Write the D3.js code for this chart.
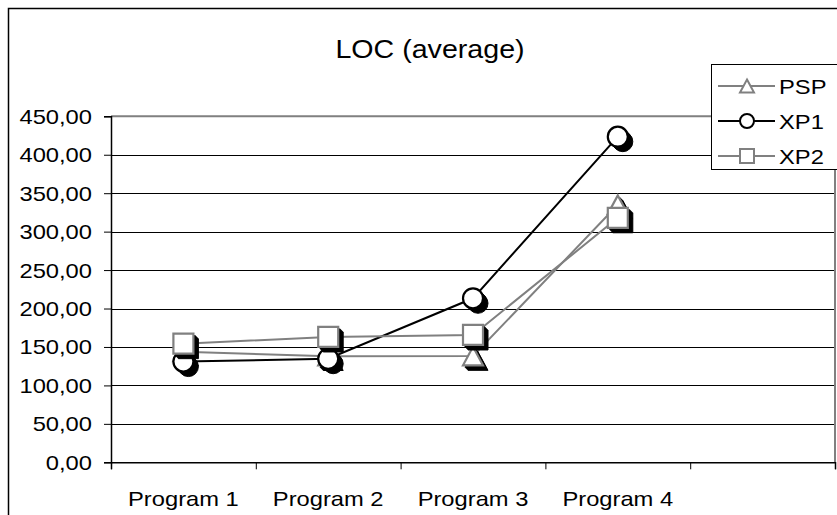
<!DOCTYPE html>
<html>
<head>
<meta charset="utf-8">
<script src="https://cdn.jsdelivr.net/npm/d3@7"></script>
<style>
  html, body { margin: 0; padding: 0; background: #fff; }
  svg { display: block; }
  text { font-family: "Liberation Sans", Arial, sans-serif; fill: #000; }
</style>
</head>
<body>
<svg id="chart" width="837" height="515"></svg>
<script>
// ---- data ----
const categories = ["Program 1", "Program 2", "Program 3", "Program 4"];
const seriesNames = ["PSP", "XP1", "XP2"];
const pspValues = [143.8, 138.0, 138.2, 335.0];
const xp1Values = [131.0, 134.7, 213.3, 423.5];
const xp2Values = [154.3, 163.0, 165.6, 318.0];
const yTicks = [0, 50, 100, 150, 200, 250, 300, 350, 400, 450];
const chartTitle = "LOC (average)";

const series = [
  { name: seriesNames[0], values: pspValues, color: "#808080", shape: "triangle" },
  { name: seriesNames[1], values: xp1Values, color: "#000000", shape: "circle" },
  { name: seriesNames[2], values: xp2Values, color: "#808080", shape: "square" }
];

const svg = d3.select("#chart");
const SX = 1.13; // horizontal text stretch seen in reference

// outer chart border
svg.append("rect").attr("x", 8.5).attr("y", 8.5).attr("width", 840).attr("height", 520)
  .attr("fill", "#fff").attr("stroke", "#000").attr("stroke-width", 1.5);

const plot = { left: 111, right: 835, top: 116.3, bottom: 462.3 };
const slots = categories.length + 1; // one empty category slot at the end
const xLin = d3.scaleLinear().domain([0, slots]).range([plot.left, plot.right]);
const xPos = i => xLin(i + 0.5);
const y = d3.scaleLinear().domain([0, 450]).range([plot.bottom, plot.top]);

const locale = d3.formatLocale({ decimal: ",", thousands: ".", grouping: [3], currency: ["", ""] });
const fmt = locale.format(".2f");

function stretchedText(g, x, yy, str, size, anchor, sx) {
  return g.append("text")
    .attr("transform", `translate(${x},${yy}) scale(${sx || SX},1)`)
    .attr("font-size", size)
    .attr("text-anchor", anchor)
    .text(str);
}

// title
stretchedText(svg, 430, 58, chartTitle, 26, "middle", 1.1);

// gridlines
svg.append("g").selectAll("line").data(yTicks.filter(t => t > 0 && t < 450)).join("line")
  .attr("x1", plot.left).attr("x2", plot.right)
  .attr("y1", d => Math.round(y(d)) + 0.5).attr("y2", d => Math.round(y(d)) + 0.5)
  .attr("stroke", "#000").attr("stroke-width", 1);

// plot border (top & right gray)
svg.append("path")
  .attr("d", `M${plot.left},${plot.top}H${plot.right}V${plot.bottom}`)
  .attr("fill", "none").attr("stroke", "#808080").attr("stroke-width", 2);

// y axis
const yAxis = svg.append("g").attr("transform", `translate(${plot.left},0)`)
  .call(d3.axisLeft(y).tickValues(yTicks).tickSize(7).tickFormat(""));
yAxis.select(".domain").attr("stroke", "#000").attr("stroke-width", 1.5);
yAxis.selectAll(".tick line").attr("stroke", "#000");
yTicks.forEach(t => {
  stretchedText(svg, 92, y(t) + 7.5, fmt(t), 21, "end");
});

// x axis
const xAxis = svg.append("g").attr("transform", `translate(0,${plot.bottom})`)
  .call(d3.axisBottom(xLin).tickValues(d3.range(0, slots + 1)).tickSize(7).tickFormat(""));
xAxis.select(".domain").attr("stroke", "#000").attr("stroke-width", 1.5);
xAxis.selectAll(".tick line").attr("stroke", "#000");
categories.forEach((c, i) => {
  stretchedText(svg, xPos(i), 506, c, 21, "middle");
});

// marker path generator
function markerPath(shape, s) {
  if (shape === "square") return `M${-s/2},${-s/2}h${s}v${s}h${-s}Z`;
  if (shape === "triangle") { const h = s * 0.93; return `M0,${-h/2}L${s/2},${h/2}L${-s/2},${h/2}Z`; }
  const r = s / 2;
  return `M${r},0A${r},${r} 0 1,1 ${-r},0A${r},${r} 0 1,1 ${r},0Z`;
}

// lines
const lineGen = d3.line().x((d, i) => xPos(i)).y(d => y(d));
series.forEach(s => {
  svg.append("path").datum(s.values).attr("d", lineGen)
    .attr("fill", "none").attr("stroke", s.color).attr("stroke-width", 2);
});

// markers with extruded shadows
const MS = 20;
series.forEach(s => {
  const g = svg.append("g");
  s.values.forEach((v, i) => {
    const cx = xPos(i), cy = y(v);
    [2, 3, 4, 5].forEach(k => {
      g.append("path").attr("d", markerPath(s.shape, MS))
        .attr("transform", `translate(${cx + k},${cy + k})`)
        .attr("fill", "#000").attr("stroke", "#000").attr("stroke-width", 1);
    });
    g.append("path").attr("d", markerPath(s.shape, MS))
      .attr("transform", `translate(${cx},${cy})`)
      .attr("fill", "#fff").attr("stroke", s.color).attr("stroke-width", 2.2);
  });
});

// legend
const leg = svg.append("g");
leg.append("rect").attr("x", 711.5).attr("y", 64.5).attr("width", 140).attr("height", 105)
  .attr("fill", "#fff").attr("stroke", "#000").attr("stroke-width", 1);
const legY = [86, 121, 156];
series.forEach((s, i) => {
  const ly = legY[i];
  leg.append("line").attr("x1", 718).attr("x2", 775).attr("y1", ly).attr("y2", ly)
    .attr("stroke", s.color).attr("stroke-width", 2);
  leg.append("path").attr("d", markerPath(s.shape, 14))
    .attr("transform", `translate(747,${ly})`)
    .attr("fill", "#fff").attr("stroke", s.color).attr("stroke-width", 2);
  stretchedText(leg, 779, ly + 7.5, s.name, 21, "start");
});
</script>
</body>
</html>
